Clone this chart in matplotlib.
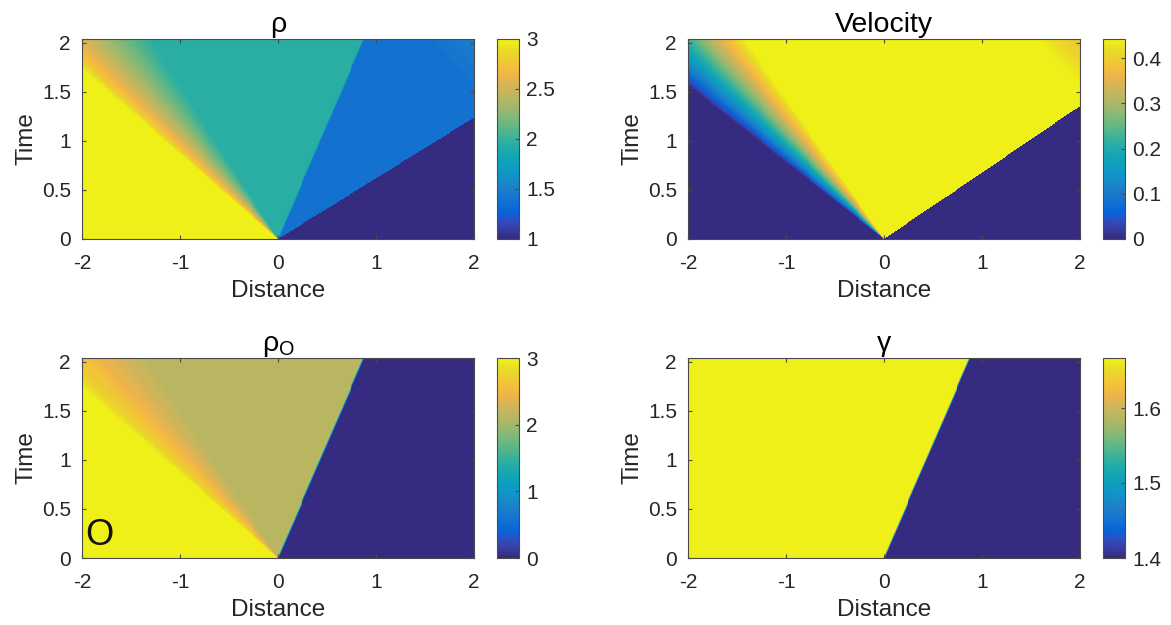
import numpy as np
import matplotlib.pyplot as plt
from matplotlib.colors import ListedColormap

plt.rcParams['font.family'] = ['Liberation Sans', 'DejaVu Sans']
plt.rcParams['mathtext.fontset'] = 'custom'
plt.rcParams['mathtext.rm'] = 'Liberation Sans'
plt.rcParams['axes.unicode_minus'] = False

# ── MATLAB parula (64 entries) ───────────────────────────────────────────────
PARULA = [
    [0.2081, 0.1663, 0.5292], [0.2116, 0.1898, 0.5777], [0.2123, 0.2138, 0.6270],
    [0.2081, 0.2386, 0.6771], [0.1959, 0.2645, 0.7279], [0.1707, 0.2919, 0.7792],
    [0.1253, 0.3242, 0.8303], [0.0591, 0.3598, 0.8683], [0.0117, 0.3875, 0.8820],
    [0.0060, 0.4086, 0.8828], [0.0165, 0.4266, 0.8786], [0.0329, 0.4430, 0.8720],
    [0.0498, 0.4586, 0.8641], [0.0629, 0.4737, 0.8554], [0.0723, 0.4887, 0.8467],
    [0.0779, 0.5040, 0.8384], [0.0793, 0.5200, 0.8312], [0.0749, 0.5375, 0.8263],
    [0.0641, 0.5570, 0.8240], [0.0488, 0.5772, 0.8228], [0.0343, 0.5966, 0.8199],
    [0.0265, 0.6137, 0.8135], [0.0239, 0.6287, 0.8038], [0.0231, 0.6418, 0.7913],
    [0.0228, 0.6535, 0.7768], [0.0267, 0.6642, 0.7607], [0.0384, 0.6743, 0.7436],
    [0.0590, 0.6838, 0.7254], [0.0843, 0.6928, 0.7062], [0.1133, 0.7015, 0.6859],
    [0.1453, 0.7098, 0.6646], [0.1801, 0.7177, 0.6424], [0.2178, 0.7250, 0.6193],
    [0.2586, 0.7317, 0.5954], [0.3022, 0.7376, 0.5712], [0.3482, 0.7424, 0.5473],
    [0.3953, 0.7459, 0.5244], [0.4420, 0.7481, 0.5033], [0.4871, 0.7491, 0.4840],
    [0.5300, 0.7491, 0.4661], [0.5709, 0.7485, 0.4494], [0.6099, 0.7473, 0.4337],
    [0.6473, 0.7456, 0.4188], [0.6834, 0.7435, 0.4044], [0.7184, 0.7411, 0.3905],
    [0.7525, 0.7384, 0.3768], [0.7858, 0.7356, 0.3633], [0.8185, 0.7327, 0.3498],
    [0.8507, 0.7299, 0.3360], [0.8824, 0.7274, 0.3217], [0.9139, 0.7258, 0.3063],
    [0.9450, 0.7261, 0.2886], [0.9739, 0.7314, 0.2666], [0.9938, 0.7455, 0.2403],
    [0.9990, 0.7653, 0.2164], [0.9955, 0.7861, 0.1967], [0.9880, 0.8066, 0.1794],
    [0.9789, 0.8271, 0.1633], [0.9697, 0.8481, 0.1475], [0.9626, 0.8705, 0.1309],
    [0.9589, 0.8949, 0.1132], [0.9598, 0.9218, 0.0948], [0.9661, 0.9514, 0.0755],
    [0.9763, 0.9831, 0.0538],
]
# the reference raster is a little duller than true parula
_c = np.array(PARULA)
_c = 0.93 * _c + 0.07 * _c.mean(axis=1, keepdims=True)
parula = ListedColormap(_c * 0.98, name="parula")

# ── Data ─────────────────────────────────────────────────────────────────────
t_max = 2.04

# density: states left | left-star | right-star | right, fan (speed, value)
rho_states = [3.0, 1.96, 1.38, 1.0]
rho_fan_speed = [-1.16, -1.09, -0.95, -0.80, -0.64]
rho_fan_value = [3.0, 2.76, 2.50, 2.22, 1.96]
rho_contact, rho_shock = 0.43, 1.62
rho_corner = [1.45, -0.96, 1.48]        # start time at x=2, speed, corner value
rho_clim = [1, 3]
rho_ticks = [1, 1.5, 2, 2.5, 3]

# velocity
vel_states = [0.0, 0.44, 0.44, 0.0]
vel_fan_speed = [-1.29, -0.70]
vel_fan_value = [0.0, 0.44]
vel_contact, vel_shock = 0.43, 1.48
vel_corner = [1.56, -0.96, 0.39]
vel_clim = [0, 0.442]
vel_ticks = [0, 0.1, 0.2, 0.3, 0.4]

# oxygen density
rhoO_states = [3.0, 2.12, 0.0, 0.0]
rhoO_fan_speed = [-1.16, -1.09, -0.95, -0.80, -0.64]
rhoO_fan_value = [3.0, 2.78, 2.55, 2.32, 2.12]
rhoO_contact = 0.43
rhoO_clim = [0, 3]
rhoO_ticks = [0, 1, 2, 3]

# adiabatic index
gam_states = [5 / 3, 5 / 3, 1.4, 1.4]
gam_contact = 0.43
gam_clim = [1.4, 5 / 3]
gam_ticks = [1.4, 1.5, 1.6]

# ── Grid ─────────────────────────────────────────────────────────────────────
nx, nt = 400, 200
x = np.linspace(-2, 2, nx)
t = (np.arange(nt) + 0.5) * t_max / nt
X, T = np.meshgrid(x, t)
XI = X / T


def field(states, contact, shock=None, fan_speed=None, fan_value=None, corner=None):
    left, mid_l, mid_r, right = states
    if fan_speed is None:
        f = np.full_like(X, left)
    else:
        f = np.interp(XI, fan_speed, fan_value)
        f = np.where(XI > fan_speed[-1], mid_l, f)
    # right side of contact (thin smeared edge)
    w = np.clip((X - contact * T) / 0.02 + 0.5, 0, 1)
    rside = np.full_like(X, mid_r)
    if shock is not None:
        rside = np.where(XI > shock, right, rside)
        if corner is not None:
            t0, c, v = corner
            t_line = t0 + (X - 2) / c
            s = np.clip((T - t_line) / (t_max - t0), 0, 1)
            rside = np.where((T > t_line) & (XI <= shock), mid_r + (v - mid_r) * s, rside)
    return f * (1 - w) + rside * w


rho = field(rho_states, rho_contact, rho_shock, rho_fan_speed, rho_fan_value, rho_corner)
vel = field(vel_states, vel_contact, vel_shock, vel_fan_speed, vel_fan_value, vel_corner)
rhoO = field(rhoO_states, rhoO_contact, None, rhoO_fan_speed, rhoO_fan_value)
gam = field(gam_states, gam_contact)

# ── Figure ───────────────────────────────────────────────────────────────────
W, H = 1171, 625
fig = plt.figure(figsize=(W / 100, H / 100), dpi=100)


def box(l, tp, r, b):
    return [l / W, (H - b) / H, (r - l) / W, (b - tp) / H]


EDGE = "#4a4a4a"
TXT = "#262626"
panels = [
    (rho, rho_clim, rho_ticks, "ρ", (82, 39, 474, 239), (497, 39, 519, 239)),
    (vel, vel_clim, vel_ticks, "Velocity", (688, 39, 1080, 239), (1103, 39, 1125, 239)),
    (rhoO, rhoO_clim, rhoO_ticks, r"ρ$_\mathrm{O}$", (82, 358, 474, 558), (497, 358, 519, 558)),
    (gam, gam_clim, gam_ticks, "γ", (688, 358, 1080, 558), (1103, 358, 1125, 558)),
]

for data, clim, cticks, title, abox, cbox in panels:
    ax = fig.add_axes(box(*abox))
    im = ax.imshow(data, origin="lower", extent=[-2, 2, 0, t_max], aspect="auto",
                   cmap=parula, vmin=clim[0], vmax=clim[1], interpolation="nearest")
    ax.set_xlim(-2, 2)
    ax.set_ylim(0, t_max)
    ax.set_xticks([-2, -1, 0, 1, 2])
    ax.set_yticks([0, 0.5, 1, 1.5, 2])
    ax.set_yticklabels(["0", "0.5", "1", "1.5", "2"])
    ax.tick_params(direction="in", top=True, right=True, length=3, width=0.8,
                   color=EDGE, labelcolor=TXT, labelsize=15)
    ax.tick_params(axis="x", pad=11)
    ax.tick_params(axis="y", pad=8)
    for sp in ax.spines.values():
        sp.set_color(EDGE)
        sp.set_linewidth(0.8)
    ax.set_xlabel("Distance", fontsize=17.5, color=TXT, labelpad=5)
    ax.set_ylabel("Time", fontsize=17.5, color=TXT, labelpad=3)
    ax.set_title(title, fontsize=20.5, color="black", pad=5)

    cax = fig.add_axes(box(*cbox))
    cb = fig.colorbar(im, cax=cax, ticks=cticks)
    cb.ax.set_yticklabels([f"{v:g}" for v in cticks])
    cb.ax.tick_params(direction="in", length=3, width=0.8, color=EDGE,
                      labelcolor=TXT, labelsize=15, pad=5)
    cb.outline.set_edgecolor(EDGE)
    cb.outline.set_linewidth(0.8)

    if title.startswith("ρ$"):
        ax.text(-1.82, 0.23, "O", fontsize=26, ha="center", va="center", color="#111111")

fig.savefig("out.png", dpi=100)
